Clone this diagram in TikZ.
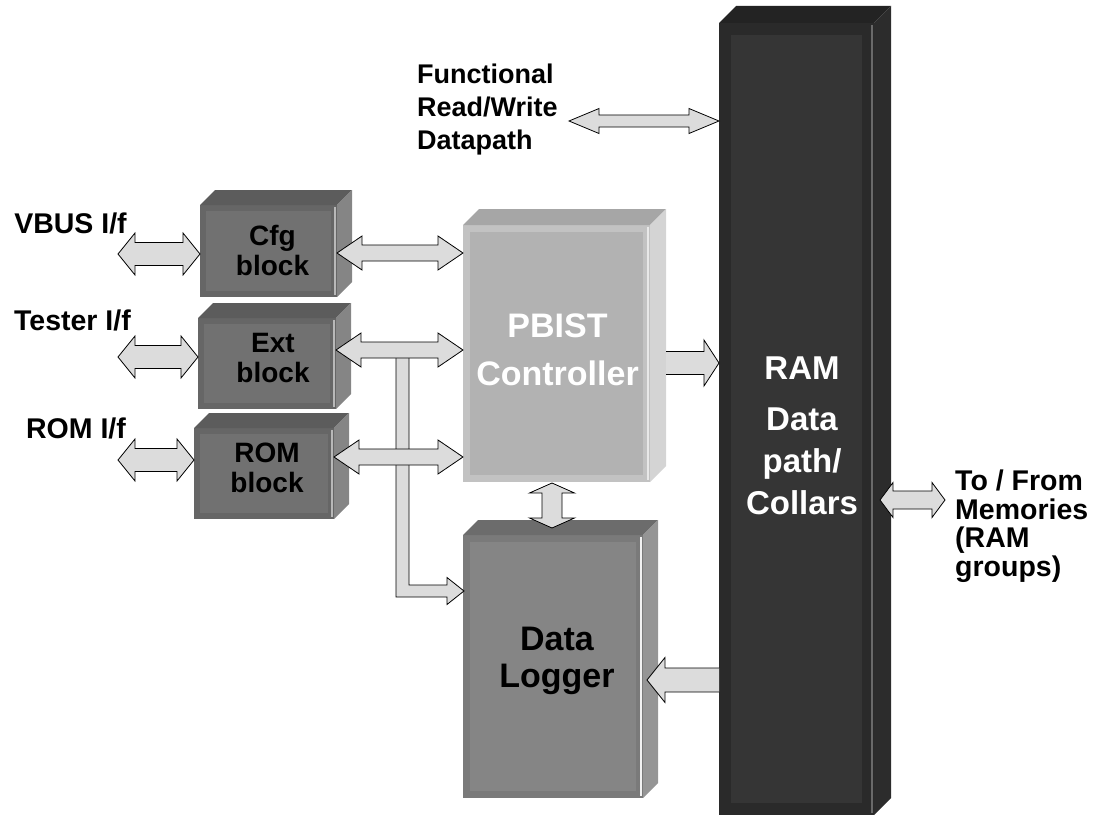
\documentclass[tikz,border=0pt]{standalone}
\usepackage{fontspec}
\setmainfont{Liberation Sans}
\usetikzlibrary{calc}

\definecolor{arrowgray}{HTML}{DCDCDC}
% RAM column
\definecolor{ramEdge}{HTML}{2A2A2A}
\definecolor{ramPanel}{HTML}{353535}
\definecolor{ramTop}{HTML}{232323}
\definecolor{ramSide}{HTML}{2C2C2C}
\definecolor{ramHi}{HTML}{6A6A6A}
% PBIST controller
\definecolor{pbEdge}{HTML}{C2C2C2}
\definecolor{pbPanel}{HTML}{B2B2B2}
\definecolor{pbTop}{HTML}{A6A6A6}
\definecolor{pbSide}{HTML}{D4D4D4}
\definecolor{pbHi}{HTML}{E8E8E8}
% data logger
\definecolor{dlEdge}{HTML}{7A7A7A}
\definecolor{dlPanel}{HTML}{858585}
\definecolor{dlTop}{HTML}{6C6C6C}
\definecolor{dlSide}{HTML}{959595}
\definecolor{dlHi}{HTML}{F2F2F2}
% small blocks
\definecolor{smEdge}{HTML}{666666}
\definecolor{smPanel}{HTML}{717171}
\definecolor{smTop}{HTML}{5C5C5C}
\definecolor{smSide}{HTML}{858585}
\definecolor{smHi}{HTML}{B8B8B8}

% front face of a bevelled box: outer colour #1, inset panel colour #2, inset #3
\tikzset{
  fat/.style={fill=arrowgray, draw=black, line width=0.8pt, line join=miter},
  face/.style n args={3}{inner sep=0pt, outer sep=0pt, fill=#1,
    path picture={\fill[#2] ($(path picture bounding box.north west)+(#3,#3)$)
      rectangle ($(path picture bounding box.south east)+(-#3,-#3)$);}},
  lbl/.style={inner sep=0pt, font=\bfseries, align=center},
}

% top and right faces of a box whose front face is node #1
\newcommand\boxsides[5]{%
  \fill[#3] (#1.north west) -- ++(#2,-#2) -- ($(#1.north east)+(#2,-#2)$) -- (#1.north east) -- cycle;
  \fill[#4] (#1.north east) -- ++(#2,-#2) -- ($(#1.south east)+(#2,-#2)$) -- (#1.south east) -- cycle;
  \draw[#5, line width=1.6pt] ($(#1.north east)+(-2,2)$) -- ($(#1.south east)+(-2,-2)$);
}

% horizontal double-headed block arrow: left tip #1, right tip x from #2
% #3 shaft half width, #4 head half width, #5 head length
\newcommand\hdouble[5]{%
  \filldraw[fat] let \p1=#1, \p2=#2 in
   (\x1,\y1) -- (\x1+#5,\y1+#4) -- (\x1+#5,\y1+#3) -- (\x2-#5,\y1+#3) -- (\x2-#5,\y1+#4) -- (\x2,\y1)
   -- (\x2-#5,\y1-#4) -- (\x2-#5,\y1-#3) -- (\x1+#5,\y1-#3) -- (\x1+#5,\y1-#4) -- cycle;}

% vertical double-headed block arrow: top tip #1, bottom tip y from #2
\newcommand\vdouble[5]{%
  \filldraw[fat] let \p1=#1, \p2=#2 in
   (\x1,\y1) -- (\x1+#4,\y1-#5) -- (\x1+#3,\y1-#5) -- (\x1+#3,\y2+#5) -- (\x1+#4,\y2+#5) -- (\x1,\y2)
   -- (\x1-#4,\y2+#5) -- (\x1-#3,\y2+#5) -- (\x1-#3,\y1-#5) -- (\x1-#4,\y1-#5) -- cycle;}

% single block arrow pointing right: tail #1, tip x from #2
\newcommand\rsingle[5]{%
  \filldraw[fat] let \p1=#1, \p2=#2 in
   (\x1,\y1+#3) -- (\x2-#5,\y1+#3) -- (\x2-#5,\y1+#4) -- (\x2,\y1)
   -- (\x2-#5,\y1-#4) -- (\x2-#5,\y1-#3) -- (\x1,\y1-#3);}

% single block arrow pointing left: tail #1, tip x from #2
\newcommand\lsingle[5]{%
  \filldraw[fat] let \p1=#1, \p2=#2 in
   (\x1,\y1+#3) -- (\x2+#5,\y1+#3) -- (\x2+#5,\y1+#4) -- (\x2,\y1)
   -- (\x2+#5,\y1-#4) -- (\x2+#5,\y1-#3) -- (\x1,\y1-#3);}

\begin{document}
\begin{tikzpicture}[x=1pt,y=-1pt]
\useasboundingbox (0,0) rectangle (1096,816);

% ---- RAM data path / collars column
\node[face={ramEdge}{ramPanel}{12}, minimum width=155pt, minimum height=792pt, anchor=north west] (ram) at (719,23) {};
\boxsides{ram}{17}{ramTop}{ramSide}{ramHi}

% ---- PBIST controller
\node[face={pbEdge}{pbPanel}{7}, minimum width=187pt, minimum height=257pt, anchor=north west] (pbist) at (463,225) {};
\boxsides{pbist}{16}{pbTop}{pbSide}{pbHi}

% ---- Data logger
\node[face={dlEdge}{dlPanel}{7}, minimum width=180pt, minimum height=263pt, anchor=north west] (dl) at (463,535) {};
\boxsides{dl}{15}{dlTop}{dlSide}{dlHi}

% ---- small interface blocks
\node[face={smEdge}{smPanel}{6}, minimum width=137pt, minimum height=92pt, anchor=north west] (cfg) at (200,205) {};
\boxsides{cfg}{15}{smTop}{smSide}{smHi}
\node[face={smEdge}{smPanel}{6}, minimum width=138pt, minimum height=91pt, anchor=north west] (ext) at (198,318) {};
\boxsides{ext}{15}{smTop}{smSide}{smHi}
\node[face={smEdge}{smPanel}{6}, minimum width=140pt, minimum height=91pt, anchor=north west] (rom) at (194,428) {};
\boxsides{rom}{15}{smTop}{smSide}{smHi}

% ---- free ends of the external interfaces
\coordinate (fnTip) at (569,121);
\coordinate (vbusTip) at (118,254);
\coordinate (testerTip) at (118,357);
\coordinate (romTip) at (118,460);
\coordinate (memTip) at (945,500);
\coordinate (busTop) at (402.5,355);
\coordinate (dlIn) at ($(dl.north west)+(1,56)$);

% ---- bus from the Ext link down to the data logger
\filldraw[fat] let \p1=(busTop), \p2=(dlIn) in
  (\x1-6.5,\y1) -- (\x1-6.5,\y2-6) -- (\x2-17,\y2-6) -- (\x2-17,\y2-13.5) -- (\x2,\y2)
  -- (\x2-17,\y2+13.5) -- (\x2-17,\y2+6) -- (\x1+6.5,\y2+6) -- (\x1+6.5,\y1);

% ---- connectors
\hdouble{(fnTip)}{(ram.west)}{6}{12.5}{30}
\hdouble{(vbusTip)}{(cfg.west)}{11.5}{21}{17}
\hdouble{(testerTip)}{(ext.west)}{11.5}{21}{17}
\hdouble{(romTip)}{(rom.west)}{11.5}{21}{17}
\hdouble{($(cfg.east)+(0,2)$)}{(pbist.west)}{8}{17}{25}
\hdouble{($(ext.north east)+(0,32)$)}{(pbist.west)}{8}{17}{25}
\hdouble{($(rom.north east)+(0,29)$)}{(pbist.west)}{8}{17}{25}
\rsingle{($(pbist.east)+(16,9.5)$)}{(ram.west)}{11.5}{23}{15}
\lsingle{($(ram.west)+(0,261)$)}{($(dl.east)+(4,0)$)}{12}{22.5}{18}
\vdouble{($(pbist.south)+(-4.5,1)$)}{($(dl.north)+(0,-7)$)}{10}{22.5}{10}
\hdouble{($(ram.east)+(6,81)$)}{(memTip)}{9}{17.5}{13}

% ---- block captions
\node[lbl, font=\bfseries\fontsize{28}{30}\selectfont] (cfgT) at ($(cfg.center)+(4,-1)$) {Cfg\\block};
\node[lbl, font=\bfseries\fontsize{28}{30}\selectfont] (extT) at ($(ext.center)+(6,-5)$) {Ext\\block};
\node[lbl, font=\bfseries\fontsize{28}{30}\selectfont] (romT) at ($(rom.center)+(3,-6)$) {ROM\\block};
\node[lbl, white, font=\bfseries\fontsize{34}{48}\selectfont] (pbistT) at ($(pbist.center)+(1,-4)$) {PBIST\\Controller};
\node[lbl, font=\bfseries\fontsize{34}{37}\selectfont] (dlT) at ($(dl.center)+(4,-6)$) {Data\\Logger};
\node[lbl, white, font=\bfseries\fontsize{33}{42}\selectfont] (ramT) at (802,436) {RAM\\[9pt]Data\\path/\\Collars};

% ---- interface labels
\node[lbl, font=\bfseries\fontsize{28.5}{30}\selectfont] (vbusL) at (70.5,223) {VBUS I/f};
\node[lbl, font=\bfseries\fontsize{28.5}{30}\selectfont] (testerL) at (72.5,320) {Tester I/f};
\node[lbl, font=\bfseries\fontsize{28.5}{30}\selectfont] (romL) at (76,428) {ROM I/f};
\node[lbl, align=left, anchor=west, font=\bfseries\fontsize{27}{33}\selectfont] (fnL) at (417,110) {Functional\\Read/Write\\Datapath};
\node[lbl, align=left, anchor=west, font=\bfseries\fontsize{28.5}{28.5}\selectfont] (memL) at (955,526) {To / From\\Memories\\(RAM\\groups)};
\end{tikzpicture}
\end{document}
